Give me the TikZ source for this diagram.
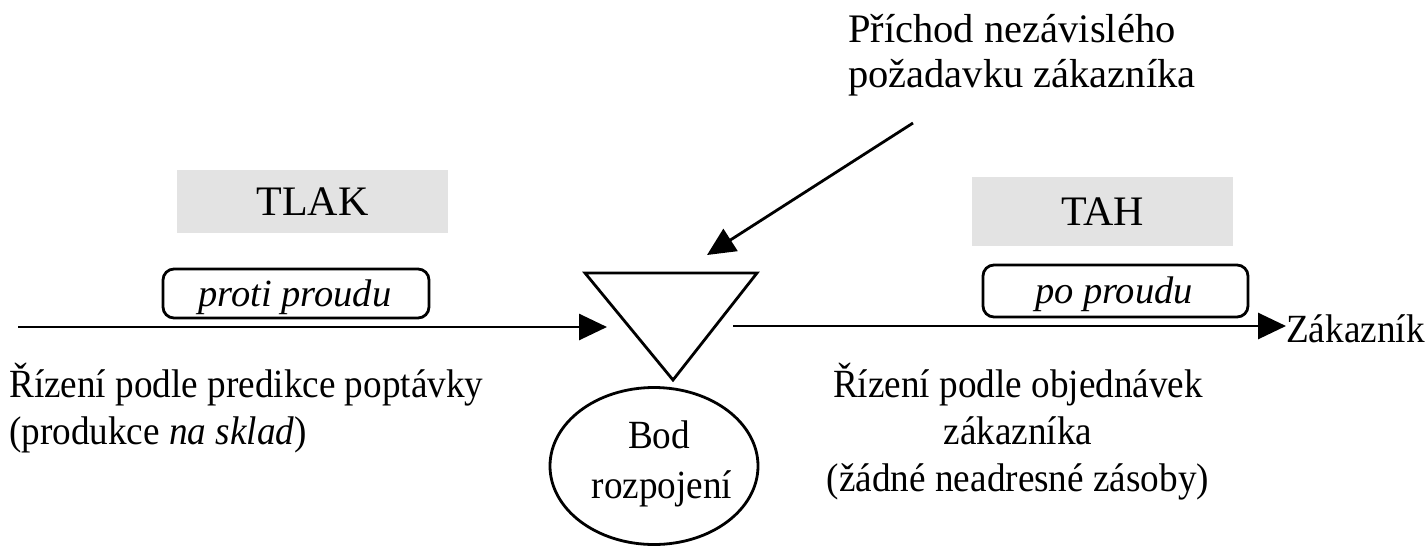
\documentclass[tikz,border=0pt]{standalone}
\usepackage{fontspec}
\setmainfont{Liberation Serif}
\newfontfamily\tallserif[FakeStretch=0.93]{Liberation Serif}
\usetikzlibrary{arrows.meta,shapes.geometric}
\tikzset{
  graybox/.style={fill=black!11, draw=none, inner sep=0pt, font=\fontsize{42}{50}\selectfont},
  flowbox/.style={draw, line width=2.8pt, rounded corners=11pt, inner sep=0pt},
  flowtext/.style={inner sep=0pt, anchor=base, font=\fontsize{38.5}{44}\selectfont\itshape},
  flow/.style={line width=2.8pt, -{Triangle[length=28pt,width=26pt]}},
  body/.style={font=\tallserif\fontsize{40}{47}\selectfont, inner sep=0pt},
}
\begin{document}
\begin{tikzpicture}[x=1pt,y=-1pt]
\useasboundingbox (0,0) rectangle (1425,547);
% gray labels
\node[graybox, minimum width=271pt, minimum height=63pt] (tlak) at (312.5,201.5) {TLAK};
\node[graybox, minimum width=261pt, minimum height=69pt] (tah) at (1102.5,211.5) {TAH};
% rounded boxes
\node[flowbox, minimum width=266pt, minimum height=49pt] (proti) at (296,293.5) {};
\node[flowtext] (protitext) at (295,306) {proti proudu};
\node[flowbox, minimum width=265pt, minimum height=52pt] (po) at (1115.5,291) {};
\node[flowtext] (potext) at (1114,303) {po proudu};
% decoupling triangle
\coordinate (tl) at (585,273);
\coordinate (tr) at (757,273);
\coordinate (tb) at (673,380);
\draw[line width=2.8pt, line join=miter] (tl) -- (tr) -- (tb) -- cycle;
% ellipse
\node[draw, ellipse, line width=2.8pt, minimum width=208pt, minimum height=157pt, inner sep=0pt] (bod) at (654,466) {};
\node[body, anchor=base] (bodA) at (659,448) {Bod};
\node[body, anchor=base] (bodB) at (662,498) {rozpojení};
% main flow
\coordinate (lstart) at (18,327);
\coordinate (lend) at (607,327);
\draw[flow] (lstart) -- (lend);
\coordinate (rstart) at (733,326);
\node[body, anchor=west] (zak) at (1286,329) {Zákazník};
\draw[flow] (rstart) -- (rstart -| zak.west);
% independent demand
\node[inner sep=0pt, anchor=north west, align=left, font=\fontsize{40.5}{45}\selectfont] (prichod) at (848,14)
  {Příchod nezávislého\\požadavku zákazníka};
\coordinate (dstart) at (913,123);
\coordinate (dend) at (707,255);
\draw[flow] (dstart) -- (dend);
% descriptions
\node[body, anchor=west, align=left] (left) at (9,408)
  {Řízení podle predikce poptávky\\(produkce \textit{na sklad})};
\node[body, align=center] (right) at (1018,432)
  {Řízení podle objednávek\\zákazníka\\(žádné neadresné zásoby)};
\end{tikzpicture}
\end{document}
